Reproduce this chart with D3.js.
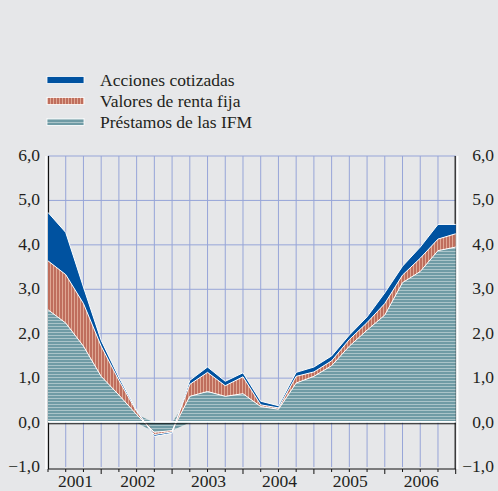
<!DOCTYPE html>
<html lang="es">

<head>
    <meta charset="UTF-8">
    <title>Financiación</title>
    <style>
        body {
            margin: 0;
            padding: 0;
            background-color: #e6e7e9;
            overflow: hidden;
        }

        svg text {
            font-family: "Liberation Serif", "Times New Roman", serif;
            fill: #231f20;
        }
    </style>
</head>

<body>
    <div id="chart"></div>

    <script src="https://d3js.org/d3.v7.min.js"></script>
    <script>
        // quarterly data, Mar 2001 .. Dec 2006
        const quarters = d3.range(24).map(i => 2001 + (i + 1) / 4);
        const prestamos = [2.54, 2.24, 1.72, 1.04, 0.62, 0.18, -0.22, -0.18, 0.59, 0.70, 0.59, 0.65,
            0.36, 0.30, 0.89, 1.04, 1.28, 1.72, 2.08, 2.42, 3.15, 3.40, 3.87, 3.95];
        const rentaFija = [1.10, 1.09, 0.96, 0.68, 0.33, 0.07, -0.05, -0.03, 0.27, 0.43, 0.24, 0.38,
            0.04, 0.03, 0.15, 0.10, 0.11, 0.15, 0.17, 0.26, 0.17, 0.30, 0.26, 0.30];
        const acciones = [1.09, 0.95, 0.37, 0.13, 0.07, 0.03, -0.04, -0.03, 0.09, 0.12, 0.10, 0.09,
            0.08, 0.05, 0.09, 0.11, 0.11, 0.10, 0.13, 0.24, 0.20, 0.25, 0.33, 0.21];

        const years = ['2001', '2002', '2003', '2004', '2005', '2006'];
        const yTicks = [-1, 0, 1, 2, 3, 4, 5, 6];
        const legendLabels = ['Acciones cotizadas', 'Valores de renta fija', 'Préstamos de las IFM'];

        const width = 498, height = 491;

        const svg = d3.select('#chart')
            .append('svg')
            .attr('width', width)
            .attr('height', height);

        svg.append('rect').attr('width', width).attr('height', height).attr('fill', '#e6e7e9');

        // stripe patterns
        const defs = svg.append('defs');
        const hPat = defs.append('pattern')
            .attr('id', 'teal')
            .attr('patternUnits', 'userSpaceOnUse')
            .attr('width', 6).attr('height', 3);
        hPat.append('rect').attr('width', 6).attr('height', 3).attr('fill', '#6f9ba5');
        hPat.append('rect').attr('y', 2).attr('width', 6).attr('height', 1).attr('fill', '#aac4c9');

        const vPat = defs.append('pattern')
            .attr('id', 'red')
            .attr('patternUnits', 'userSpaceOnUse')
            .attr('width', 3).attr('height', 6);
        vPat.append('rect').attr('width', 3).attr('height', 6).attr('fill', '#bf6e5d');
        vPat.append('rect').attr('x', 2).attr('width', 1).attr('height', 6).attr('fill', '#dfa793');

        const fills = { prestamos: 'url(#teal)', rentaFija: 'url(#red)', acciones: '#0052a0' };

        const x = d3.scaleLinear().domain([0, 23]).range([48, 455.7]);
        const y = d3.scaleLinear().domain([-1, 6]).range([467, 156]);

        // grid
        const grid = svg.append('g');
        grid.selectAll('.hgrid')
            .data(yTicks.filter(d => d > 0))
            .enter().append('line')
            .attr('x1', x(0)).attr('x2', x(23))
            .attr('y1', d => y(d)).attr('y2', d => y(d))
            .attr('stroke', '#97a5d8')
            .attr('stroke-width', 1);
        grid.selectAll('.vgrid')
            .data(d3.range(1, 23))
            .enter().append('line')
            .attr('x1', d => x(d)).attr('x2', d => x(d))
            .attr('y1', y(6)).attr('y2', y(-1))
            .attr('stroke', '#97a5d8')
            .attr('stroke-width', 1);

        // frame sides
        [[x(0) - 2, '#ffffff'], [x(0) + 0.5, '#111'], [x(23) - 0.5, '#111'], [x(23) + 2, '#ffffff']].forEach(([px, c]) => {
            svg.append('line')
                .attr('x1', px).attr('x2', px)
                .attr('y1', y(6)).attr('y2', y(-1) + 2)
                .attr('stroke', c)
                .attr('stroke-width', c === '#ffffff' ? 1.5 : 1.2);
        });

        // stacked areas
        const rows = quarters.map((q, i) => ({
            prestamos: prestamos[i], rentaFija: rentaFija[i], acciones: acciones[i]
        }));
        const keys = ['prestamos', 'rentaFija', 'acciones'];
        const series = d3.stack().keys(keys).offset(d3.stackOffsetDiverging)(rows);

        const area = d3.area()
            .x((d, i) => x(i))
            .y0(d => y(d[0]))
            .y1(d => y(d[1]));

        svg.append('g')
            .selectAll('path')
            .data(series)
            .enter().append('path')
            .attr('d', area)
            .attr('fill', d => fills[d.key]);

        // white edges between the layers
        const edge = d3.line()
            .x((d, i) => x(i))
            .y(d => y(d.data[d.key] >= 0 ? d[1] : d[0]));

        svg.append('g')
            .selectAll('path')
            .data(series.map(s => s.map(d => Object.assign(d, { key: s.key }))))
            .enter().append('path')
            .attr('d', edge)
            .attr('fill', 'none')
            .attr('stroke', '#ffffff')
            .attr('stroke-width', 1);

        // zero line
        svg.append('line')
            .attr('x1', x(0)).attr('x2', x(23))
            .attr('y1', y(0) - 0.8).attr('y2', y(0) - 0.8)
            .attr('stroke', '#ffffff').attr('stroke-width', 1.5);
        svg.append('line')
            .attr('x1', x(0)).attr('x2', x(23))
            .attr('y1', y(0) + 1.2).attr('y2', y(0) + 1.2)
            .attr('stroke', '#111').attr('stroke-width', 1.2);

        // bottom axis
        svg.append('line')
            .attr('x1', x(0)).attr('x2', x(23))
            .attr('y1', y(-1) + 2).attr('y2', y(-1) + 2)
            .attr('stroke', '#111').attr('stroke-width', 1);
        svg.selectAll('.tick')
            .data(d3.range(0, 24))
            .enter().append('line')
            .attr('x1', d => x(d)).attr('x2', d => x(d))
            .attr('y1', y(-1) + 2)
            .attr('y2', d => y(-1) + ((d + 1) % 4 === 0 ? 7 : 5))
            .attr('stroke', '#111').attr('stroke-width', 1);

        svg.selectAll('.year')
            .data(years)
            .enter().append('text')
            .attr('x', (d, k) => (x(Math.max(4 * k - 1, 0)) + x(4 * k + 3)) / 2 + 1)
            .attr('y', 487)
            .attr('text-anchor', 'middle')
            .attr('font-size', '17.5px')
            .text(d => d);

        // y labels, both sides
        const fmt = d => d3.format('.1f')(d).replace('.', ',');
        svg.selectAll('.ylab')
            .data(yTicks)
            .enter().append('text')
            .attr('x', 40)
            .attr('y', d => y(d) + 5)
            .attr('text-anchor', 'end')
            .attr('font-size', '17.5px')
            .text(fmt);
        svg.selectAll('.ylabr')
            .data(yTicks)
            .enter().append('text')
            .attr('x', 494)
            .attr('y', d => y(d) + 5)
            .attr('text-anchor', 'end')
            .attr('font-size', '17.5px')
            .text(fmt);

        // legend
        const legendFills = [fills.acciones, fills.rentaFija, fills.prestamos];
        const legend = svg.append('g');
        legendLabels.forEach((label, i) => {
            const cy = 80 + i * 21;
            legend.append('rect')
                .attr('x', 47).attr('y', cy - 3.5)
                .attr('width', 37).attr('height', 7)
                .attr('fill', legendFills[i])
                .attr('stroke', '#ffffff').attr('stroke-width', 0.8);
            legend.append('text')
                .attr('x', 100).attr('y', cy + 5.5)
                .attr('font-size', '17.5px')
                .text(label);
        });
    </script>
</body>

</html>
